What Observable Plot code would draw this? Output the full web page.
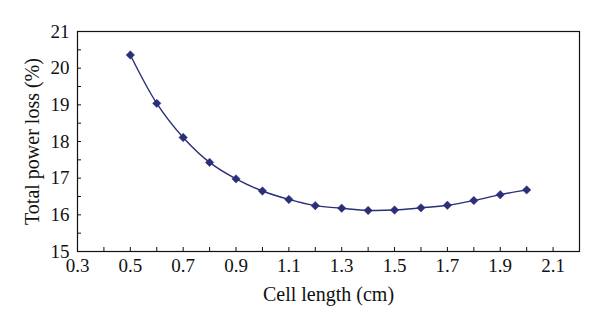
<!DOCTYPE html>
<html>
<head>
<meta charset="utf-8">
<script src="https://cdn.jsdelivr.net/npm/d3@7"></script>
<script src="https://cdn.jsdelivr.net/npm/@observablehq/plot@0.6"></script>
<style>
  html, body { margin: 0; padding: 0; background: #fff; }
  #chart svg { display: block; }
</style>
</head>
<body>
<div id="chart"></div>
<script>
const cellLength = [0.5, 0.6, 0.7, 0.8, 0.9, 1.0, 1.1, 1.2, 1.3, 1.4, 1.5, 1.6, 1.7, 1.8, 1.9, 2.0];
const powerLoss = [20.36, 19.04, 18.11, 17.43, 16.98, 16.65, 16.42, 16.25, 16.18, 16.12, 16.13, 16.19, 16.26, 16.39, 16.55, 16.68];
const xTickLabels = [0.3, 0.5, 0.7, 0.9, 1.1, 1.3, 1.5, 1.7, 1.9, 2.1];
const xMinorTicks = [0.4, 0.5, 0.6, 0.7, 0.8, 0.9, 1.0, 1.1, 1.2, 1.3, 1.4, 1.5, 1.6, 1.7, 1.8, 1.9, 2.0, 2.1];
const yTickLabels = [15, 16, 17, 18, 19, 20, 21];
const yMinorTicks = [15.5, 16, 16.5, 17, 17.5, 18, 18.5, 19, 19.5, 20, 20.5];

const data = cellLength.map((x, i) => ({x, y: powerLoss[i]}));
const color = "#2a2f78";
const font = "Liberation Serif, serif";

const chart = Plot.plot({
  width: 600,
  height: 330,
  marginLeft: 77,
  marginRight: 21,
  marginTop: 31,
  marginBottom: 79,
  style: {fontFamily: font, color: "#111", background: "#fff"},
  x: {domain: [0.3, 2.2], axis: null},
  y: {domain: [15, 21], axis: null},
  marks: [
    Plot.axisX(xMinorTicks, {tickSize: -4, text: null, label: null}),
    Plot.axisY(yMinorTicks, {tickSize: -4, text: null, label: null}),
    Plot.text(xTickLabels, {x: d => d, frameAnchor: "bottom", dy: 20, text: d => d3.format(".1f")(d), fontSize: 19, fill: "#111"}),
    Plot.text(yTickLabels, {y: d => d, frameAnchor: "left", dx: -8, textAnchor: "end", text: d => String(d), fontSize: 19, fill: "#111"}),
    Plot.frame({stroke: "#111", strokeWidth: 1.2}),
    Plot.line(data, {x: "x", y: "y", curve: "catmull-rom", stroke: color, strokeWidth: 1.4}),
    Plot.dot(data, {x: "x", y: "y", symbol: "diamond2", r: 3.8, fill: color, stroke: color, strokeWidth: 0.5}),
    Plot.text(["Cell length (cm)"], {frameAnchor: "bottom", dy: 49, fontSize: 20, fill: "#111"}),
    Plot.text(["Total power loss (%)"], {frameAnchor: "left", dx: -45, rotate: -90, textAnchor: "middle", fontSize: 20, fill: "#111"})
  ]
});
document.getElementById("chart").appendChild(chart);
</script>
</body>
</html>
